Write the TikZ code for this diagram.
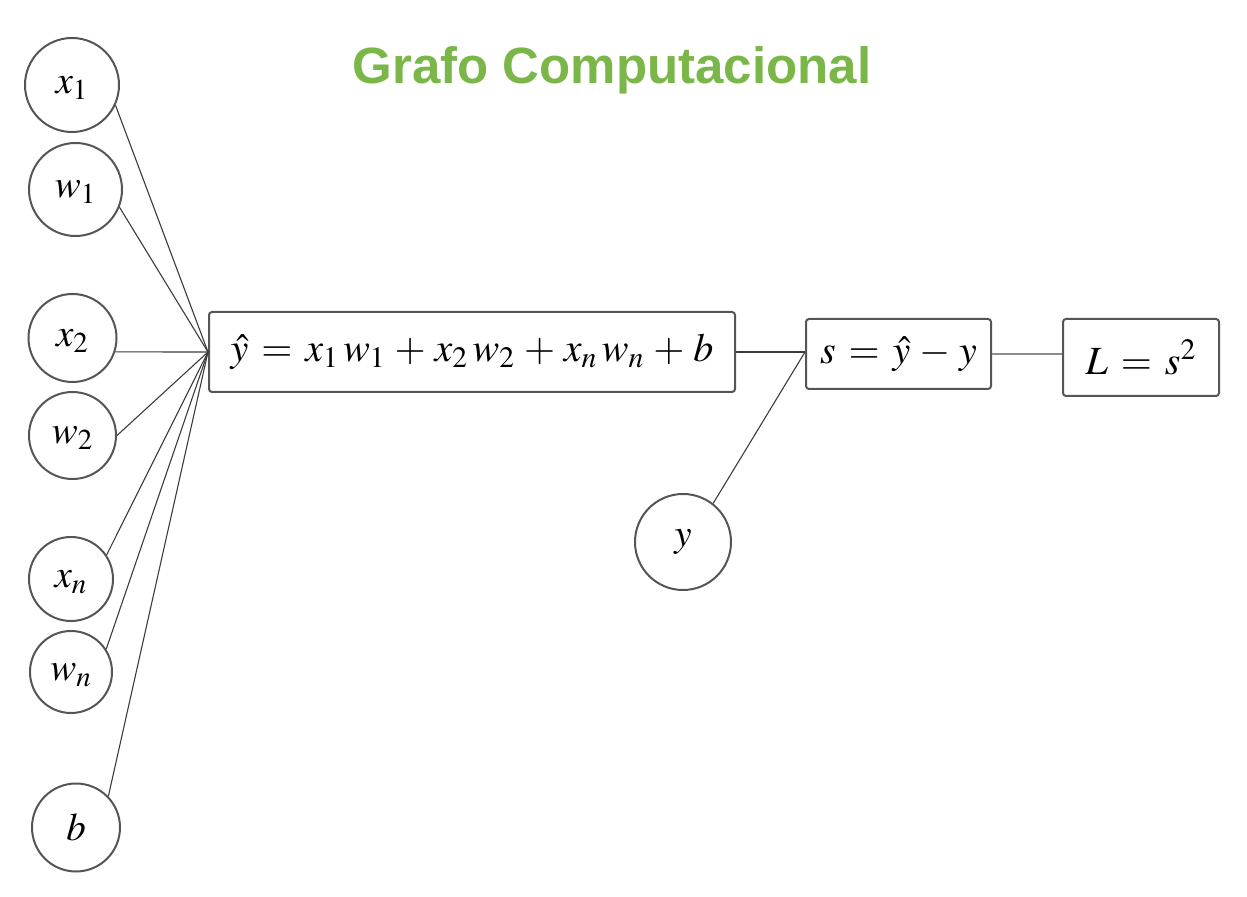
\documentclass[tikz,border=0pt]{standalone}
\usepackage{mathptmx}
\usepackage{fontspec}
\newfontfamily\titlefont{Liberation Sans}
\definecolor{titlegreen}{RGB}{122,182,72}
\definecolor{rimgray}{RGB}{85,85,85}
\definecolor{linegray}{RGB}{60,60,60}
\definecolor{lightline}{RGB}{140,140,140}
\tikzset{
  var/.style={circle, draw=rimgray, line width=1pt, inner sep=0pt, font=\fontsize{19.5}{23}\selectfont},
  subvar/.style={var, text depth=0pt},
  opbox/.style={rectangle, draw=rimgray, line width=1pt, rounded corners=1.5pt, inner sep=0pt, font=\fontsize{20}{24}\selectfont},
  edge/.style={draw=linegray, line width=0.55pt},
  lightedge/.style={draw=lightline, line width=0.6pt},
}
\begin{document}
\begin{tikzpicture}[x=0.5pt,y=-0.5pt]
\medmuskip=4mu plus 2mu minus 4mu
\thickmuskip=5.8mu plus 5mu
\useasboundingbox (0,0) rectangle (1247,897);
\node[font=\titlefont\bfseries\fontsize{25.5}{30}\selectfont, text=titlegreen] (title) at (612,70) {Grafo Computacional};

\node[subvar, minimum size=47pt] (x1) at (72,85) {$x_1$};
\node[subvar, minimum size=46.5pt] (w1) at (75.5,189.5) {$w_1$};
\node[subvar, minimum size=44pt] (x2) at (72.5,338) {$x_2$};
\node[subvar, minimum size=43.5pt] (w2) at (72.5,435.5) {$w_2$};
\node[subvar, minimum size=42pt] (xn) at (71,579) {$x_n$};
\node[subvar, minimum size=41pt] (wn) at (71,672) {$w_n$};
\node[var, minimum size=44pt] (b) at (76,827.5) {$b$};
\node[var, minimum size=48pt] (y) at (683,542) {$y$};

\node[opbox, minimum width=263pt, minimum height=40pt] (b1) at (472,352) {$\hat{y} = x_1\,w_1 + x_2\,w_2 + x_n\,w_n + b$};
\node[opbox, minimum width=92.5pt, minimum height=35pt] (s) at (898.5,354) {$s = \hat{y} - y$};
\node[opbox, minimum width=78pt, minimum height=38.5pt] (L) at (1141,357.5) {$L = s^2$};

\draw[edge] (x1.-25) -- (b1.west);
\draw[edge] (w1.-22) -- (b1.west);
\draw[edge] (x2.-18) -- (b1.west);
\draw[edge] (w2.0) -- (b1.west);
\draw[edge] (xn.34) -- (b1.west);
\draw[edge] (wn.33) -- (b1.west);
\draw[edge] (b.44) -- (b1.west);

\coordinate (sin) at (b1.east -| s.west);
\draw[edge] (b1.east) -- (sin);
\draw[edge] (y.52) -- (sin);
\draw[lightedge] (s.east) -- (s.east -| L.west);
\end{tikzpicture}
\end{document}
